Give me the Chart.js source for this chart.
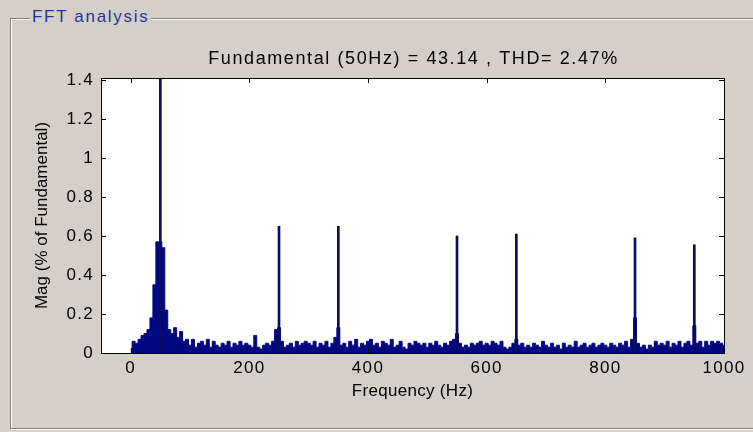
<!DOCTYPE html>
<html>
<head>
<meta charset="utf-8">
<script src="https://cdn.jsdelivr.net/npm/chart.js@4/dist/chart.umd.min.js"></script>
<style>
  html, body { margin: 0; padding: 0; background: #d4d0c8; }
  #wrap { position: relative; width: 753px; height: 432px; overflow: hidden; }
  #frame {
    position: absolute; left: 10px; top: 18px; width: 760px; height: 409px;
    border: 1px solid #808080; box-shadow: inset 1px 1px 0 #ffffff, 1px 1px 0 #ffffff;
  }
  #legend {
    position: absolute; left: 30px; top: 7px; padding: 0 2px;
    background: #d4d0c8; color: #26349c; letter-spacing: 1.7px;
    font: 17px "Liberation Sans", Arial, sans-serif;
  }
  canvas { position: absolute; left: 0; top: 0; }
</style>
</head>
<body>
<div id="wrap">
  <div id="frame"></div>
  <div id="legend">FFT analysis</div>
  <canvas id="fft" width="753" height="432"></canvas>
</div>
<script>
// noise floor, one value every 5 Hz from 0 to 1000 Hz
const floorStart = 0;
const floorStep = 5;
const floorMag = [
  0.02, 0.06, 0.05, 0.07, 0.09, 0.10, 0.12, 0.18, 0.35, 0.57, 0.57, 0.54, 0.22, 0.12, 0.10, 0.13, 0.08, 0.11, 0.06, 0.07,
  0.04, 0.07, 0.03, 0.05, 0.06, 0.04, 0.07, 0.03, 0.06, 0.04, 0.03, 0.05, 0.04, 0.06, 0.03, 0.05, 0.04, 0.06, 0.04, 0.05,
  0.04, 0.03, 0.09, 0.03, 0.02, 0.04, 0.05, 0.04, 0.06, 0.12, 0.13, 0.06, 0.03, 0.04, 0.05, 0.03, 0.06, 0.04, 0.05, 0.06,
  0.05, 0.04, 0.06, 0.03, 0.05, 0.04, 0.06, 0.03, 0.05, 0.08, 0.13, 0.04, 0.05, 0.03, 0.06, 0.04, 0.07, 0.03, 0.05, 0.04,
  0.06, 0.07, 0.04, 0.05, 0.03, 0.06, 0.05, 0.04, 0.07, 0.03, 0.04, 0.06, 0.03, 0.02, 0.05, 0.04, 0.06, 0.05, 0.04, 0.05,
  0.03, 0.05, 0.04, 0.06, 0.04, 0.03, 0.05, 0.04, 0.06, 0.07, 0.10, 0.05, 0.03, 0.04, 0.03, 0.05, 0.04, 0.05, 0.06, 0.04,
  0.05, 0.04, 0.06, 0.05, 0.04, 0.06, 0.03, 0.02, 0.03, 0.05, 0.07, 0.04, 0.05, 0.03, 0.04, 0.03, 0.05, 0.04, 0.03, 0.06,
  0.04, 0.03, 0.05, 0.03, 0.04, 0.02, 0.05, 0.03, 0.04, 0.03, 0.06, 0.03, 0.04, 0.05, 0.03, 0.04, 0.05, 0.03, 0.04, 0.05,
  0.04, 0.03, 0.05, 0.04, 0.03, 0.05, 0.04, 0.06, 0.03, 0.07, 0.18, 0.05, 0.03, 0.04, 0.02, 0.04, 0.03, 0.06, 0.04, 0.05,
  0.04, 0.06, 0.03, 0.05, 0.04, 0.06, 0.03, 0.05, 0.06, 0.04, 0.14, 0.05, 0.06, 0.03, 0.06, 0.04, 0.06, 0.05, 0.06, 0.05,
  0.04
];

// fundamental and harmonic lines
const spikeFreq = [50, 250, 350, 550, 650, 850, 950];
const spikeMag = [100, 0.65, 0.65, 0.60, 0.61, 0.59, 0.555];

const xTicks = [0, 200, 400, 600, 800, 1000];
const yTicks = [0, 0.2, 0.4, 0.6, 0.8, 1, 1.2, 1.4];

const titleText = "Fundamental (50Hz) = 43.14 , THD= 2.47%";
const xTitle = "Frequency (Hz)";
const yTitle = "Mag (% of Fundamental)";

const FONT = "'Liberation Sans', Arial, sans-serif";

const floorPts = floorMag.map((v, i) => ({ x: floorStart + i * floorStep, y: v }));
const spikePts = spikeFreq.map((f, i) => ({ x: f, y: spikeMag[i] }));

// white axes box, black frame, inward ticks, titles
const axesBox = {
  id: "axesBox",
  beforeUpdate(chart) {
    chart.ctx.letterSpacing = "1.3px";
  },
  beforeDraw(chart) {
    const { ctx, chartArea: a } = chart;
    ctx.letterSpacing = "1.3px";
    ctx.save();
    ctx.fillStyle = "#ffffff";
    ctx.fillRect(a.left, a.top, a.right - a.left, a.bottom - a.top);
    ctx.restore();
  },
  afterDraw(chart) {
    const { ctx, chartArea: a, scales } = chart;
    const len = 5;
    ctx.save();
    ctx.strokeStyle = "#000000";
    ctx.lineWidth = 1;
    ctx.beginPath();
    for (const v of xTicks) {
      const px = Math.round(scales.x.getPixelForValue(v)) + 0.5;
      ctx.moveTo(px, a.bottom); ctx.lineTo(px, a.bottom - len);
      ctx.moveTo(px, a.top); ctx.lineTo(px, a.top + len);
    }
    for (const v of yTicks) {
      const py = Math.round(scales.y.getPixelForValue(v)) + 0.5;
      ctx.moveTo(a.left, py); ctx.lineTo(a.left + len, py);
      ctx.moveTo(a.right, py); ctx.lineTo(a.right - len, py);
    }
    ctx.stroke();
    ctx.strokeRect(Math.round(a.left) + 0.5, Math.round(a.top) + 0.5,
      Math.round(a.right - a.left), Math.round(a.bottom - a.top));

    const cx = (a.left + a.right) / 2;
    ctx.fillStyle = "#000000";
    ctx.textAlign = "center";
    ctx.textBaseline = "middle";

    ctx.letterSpacing = "1.6px";
    ctx.font = "18px " + FONT;
    ctx.fillText(titleText, cx + 1, 59);

    ctx.letterSpacing = "0.3px";
    ctx.font = "17px " + FONT;
    ctx.fillText(xTitle, cx, 391);

    ctx.translate(42, (a.top + a.bottom) / 2);
    ctx.rotate(-Math.PI / 2);
    ctx.letterSpacing = "0px";
    ctx.fillText(yTitle, 0, 0);
    ctx.restore();
  }
};

new Chart(document.getElementById("fft"), {
  type: "bar",
  data: {
    datasets: [
      {
        type: "bar",
        label: "harmonics",
        data: spikePts,
        backgroundColor: "#0c0c5a",
        barThickness: 2,
        grouped: false,
        order: 0
      },
      {
        type: "line",
        label: "spectrum",
        data: floorPts,
        stepped: "middle",
        fill: "origin",
        backgroundColor: "#00087f",
        borderColor: "#00087f",
        borderWidth: 1,
        pointRadius: 0,
        order: 1
      }
    ]
  },
  options: {
    responsive: false,
    animation: false,
    events: [],
    layout: { padding: { left: 0, right: 29, top: 78, bottom: 0 } },
    plugins: {
      legend: { display: false },
      tooltip: { enabled: false },
      title: { display: false }
    },
    scales: {
      x: {
        type: "linear",
        min: -50,
        max: 1000,
        offset: false,
        afterBuildTicks: s => { s.ticks = xTicks.map(v => ({ value: v })); },
        afterFit: s => { s.height = 79; },
        grid: { display: false, drawTicks: false },
        border: { display: false },
        ticks: {
          color: "#000000", padding: 5, maxRotation: 0,
          font: { family: FONT, size: 17 },
          callback: v => String(v)
        }
      },
      y: {
        min: 0,
        max: 1.41,
        afterBuildTicks: s => { s.ticks = yTicks.map(v => ({ value: v })); },
        afterFit: s => { s.width = 101; },
        grid: { display: false, drawTicks: false },
        border: { display: false },
        ticks: {
          color: "#000000", padding: 7,
          font: { family: FONT, size: 17 },
          callback: v => String(v)
        }
      }
    }
  },
  plugins: [axesBox]
});
</script>
</body>
</html>
